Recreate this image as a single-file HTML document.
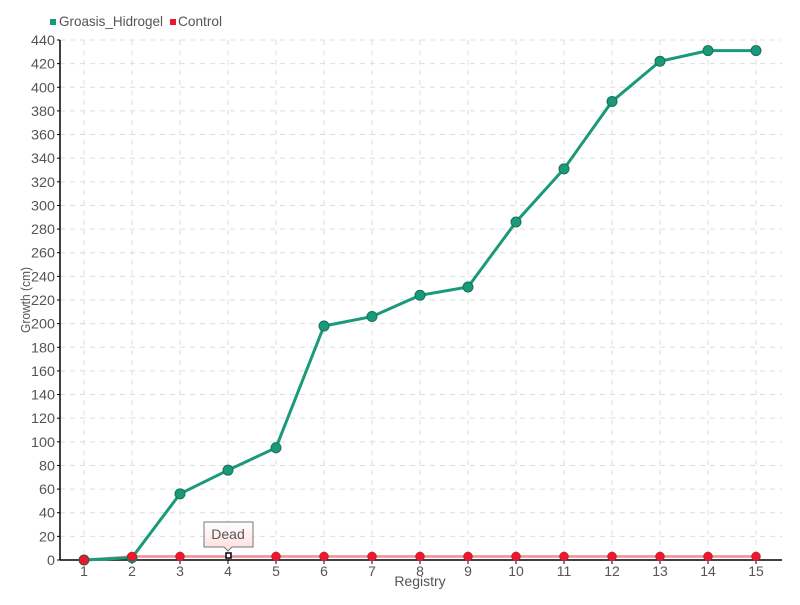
<!DOCTYPE html>
<html><head><meta charset="utf-8"><style>
body{margin:0;background:#fff;width:800px;height:600px;overflow:hidden}
svg text{font-family:"Liberation Sans",sans-serif;fill:#555}
</style></head><body>
<svg id="c" width="800" height="600" xmlns="http://www.w3.org/2000/svg"></svg>
<script>
const s=document.getElementById('c');let h='';
const Y=v=>560-v*520/440, X=i=>84+(i-1)*48;
for(let v=20;v<=440;v+=20){h+=`<line x1="60" x2="782" y1="${Y(v)}" y2="${Y(v)}" stroke="#ddd" stroke-dasharray="5,5"/>`;}
for(let i=1;i<=15;i++){h+=`<line x1="${X(i)}" x2="${X(i)}" y1="40" y2="560" stroke="#ddd" stroke-dasharray="5,5"/>`;}
h+=`<line x1="60" x2="60" y1="40" y2="560" stroke="#000" stroke-width="1.5"/><line x1="60" x2="782" y1="560" y2="560" stroke="#000" stroke-width="1.5"/>`;
for(let v=0;v<=440;v+=20){h+=`<line x1="57" x2="60" y1="${Y(v)}" y2="${Y(v)}" stroke="#000"/><text x="55" y="${Y(v)+5}" font-size="14" text-anchor="end" textLength="${String(v).length*8}" lengthAdjust="spacingAndGlyphs">${v}</text>`;}
for(let i=1;i<=15;i++){h+=`<line x1="${X(i)}" x2="${X(i)}" y1="560" y2="564" stroke="#000"/><text x="${X(i)}" y="576" font-size="14" text-anchor="middle">${i}</text>`;}
h+=`<text x="420" y="586" font-size="14" text-anchor="middle">Registry</text>`;
h+=`<text transform="translate(30,300) rotate(-90)" font-size="13" text-anchor="middle" textLength="66" lengthAdjust="spacingAndGlyphs">Growth (cm)</text>`;
h+=`<rect x="50" y="19" width="6" height="6" fill="#1a9a7a"/><text x="59" y="26" font-size="14" textLength="104" lengthAdjust="spacingAndGlyphs">Groasis_Hidrogel</text><rect x="170" y="19" width="6" height="6" fill="#e8192c"/><text x="178" y="26" font-size="14" textLength="44" lengthAdjust="spacingAndGlyphs">Control</text>`;
const g=[0,2,56,76,95,198,206,224,231,286,331,388,422,431,431];
const c=[0,3,3,3,3,3,3,3,3,3,3,3,3,3,3];
h+=`<polyline fill="none" stroke="#f58a94" stroke-width="2.5" points="${c.map((v,i)=>X(i+1)+','+Y(v)).join(' ')}"/>`;
h+=`<polyline fill="none" stroke="#1a9a7a" stroke-width="3" points="${g.map((v,i)=>X(i+1)+','+Y(v)).join(' ')}"/>`;
g.forEach((v,i)=>h+=`<circle cx="${X(i+1)}" cy="${Y(v)}" r="5" fill="#1a9a7a" stroke="#17705a" stroke-width="1"/>`);
c.forEach((v,i)=>{if(i==3)return;h+=`<circle cx="${X(i+1)}" cy="${Y(v)}" r="4.5" fill="#e8192c" stroke="#c01020" stroke-width="0.5"/>`});
h+=`<rect x="226" y="553" width="5" height="5" fill="#fff" stroke="#000" stroke-width="1.5"/>`;
h+=`<defs><linearGradient id="gr" x1="0" y1="0" x2="0" y2="1"><stop offset="0" stop-color="#fff"/><stop offset="1" stop-color="#fdd"/></linearGradient></defs>`;
h+=`<path d="M204 522 H253 V547 H232 L228 551 L224 547 H204 Z" fill="url(#gr)" stroke="#777"/><text x="228" y="539" font-size="14" text-anchor="middle">Dead</text>`;
s.innerHTML=h;
</script>
</body></html>
